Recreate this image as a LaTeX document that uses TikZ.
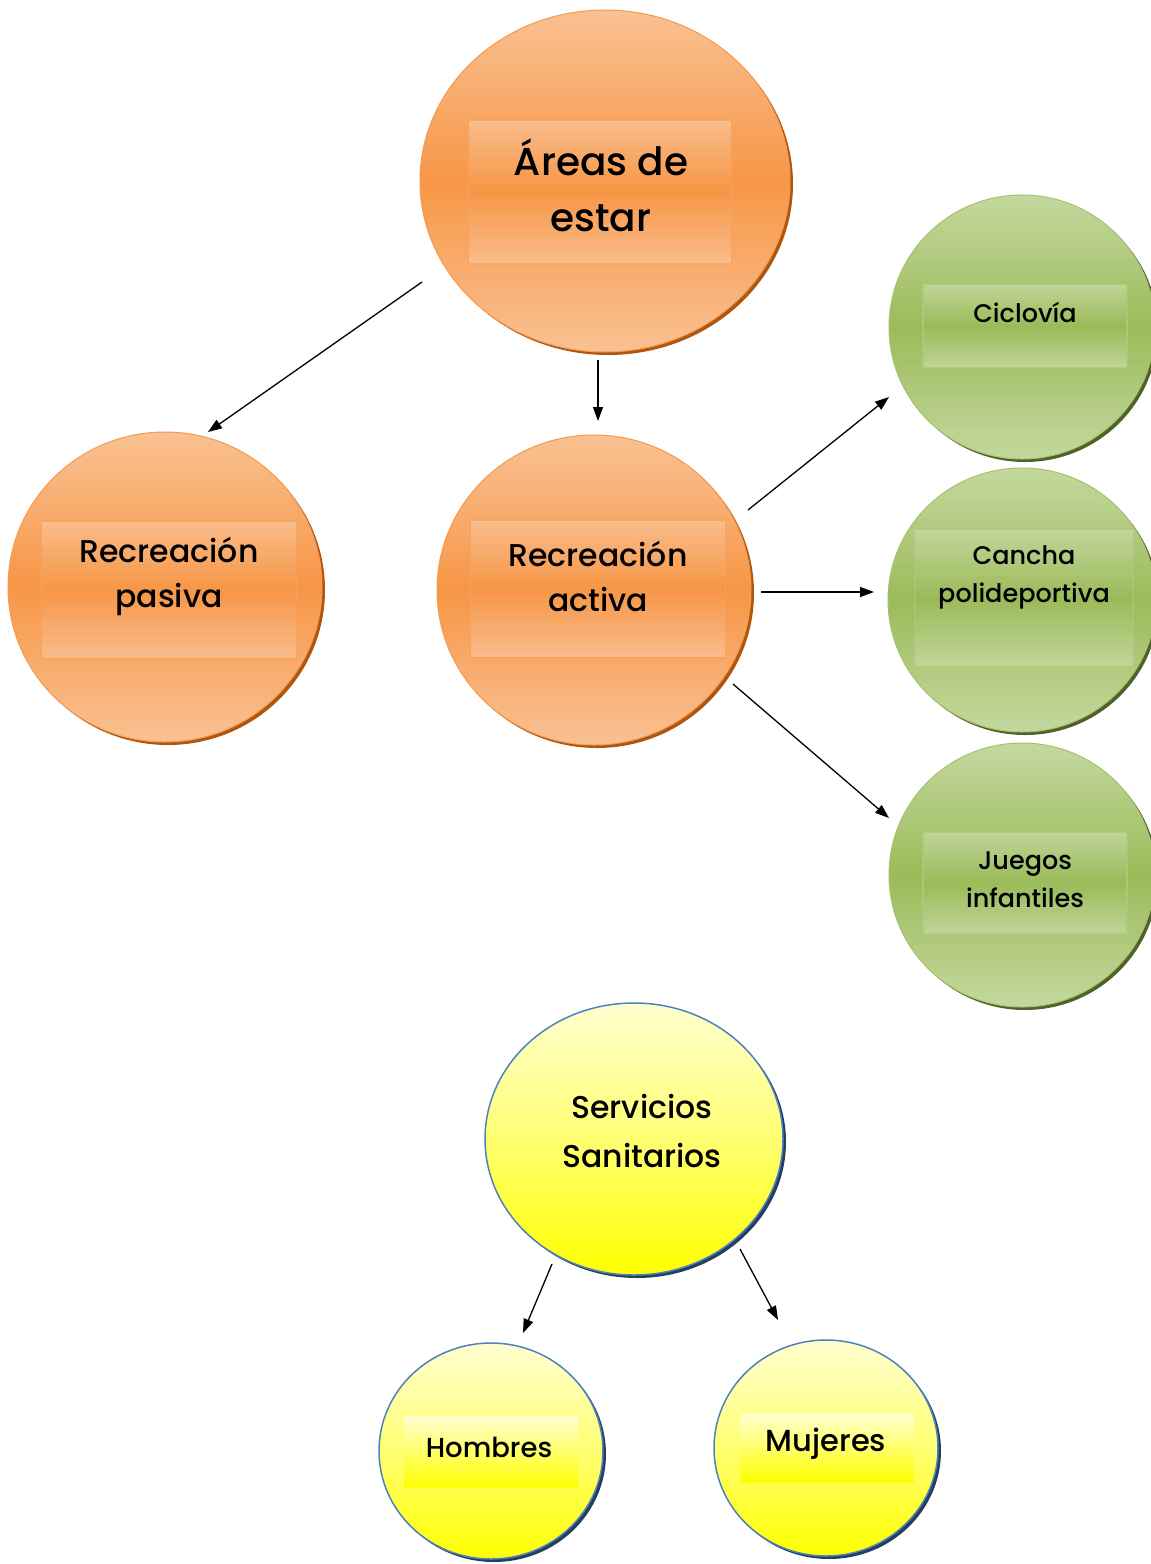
\documentclass[tikz,border=0pt]{standalone}
\usepackage{fontspec}
\setmainfont{Poppins}[BoldFont={Poppins Medium}]
\usetikzlibrary{shapes.geometric,arrows.meta}
\definecolor{orL}{HTML}{F9C193}
\definecolor{orM}{HTML}{F79646}
\definecolor{orD}{HTML}{B0560E}
\definecolor{orB}{HTML}{F59A4E}
\definecolor{grL}{HTML}{C4D89F}
\definecolor{grM}{HTML}{9BBB59}
\definecolor{grD}{HTML}{4F6228}
\definecolor{grB}{HTML}{A6C26C}
\definecolor{yeL}{HTML}{FFFFD0}
\definecolor{yeM}{HTML}{FFFF00}
\definecolor{blB}{HTML}{4F81BD}
\definecolor{blD}{HTML}{243F60}
\tikzset{
  ball/.style={ellipse, inner sep=0pt},
  orball/.style={ball, top color=orL, bottom color=orL, middle color=orM, draw=orB, line width=1pt},
  grball/.style={ball, top color=grL, bottom color=grL, middle color=grM, draw=grB, line width=1pt},
  yeball/.style={ball, top color=yeL, bottom color=yeM, middle color=yeM!45!yeL, draw=blB, line width=1.5pt},
  orrect/.style={rectangle, inner sep=0pt, top color=orL, bottom color=orL, middle color=orM, draw=orB!80!orL, line width=1.5pt, opacity=0.85},
  grrect/.style={rectangle, inner sep=0pt, top color=grL, bottom color=grL, middle color=grM, draw=grB!70!grL, line width=1.5pt, opacity=0.85},
  yerect/.style={rectangle, inner sep=0pt, top color=yeL, bottom color=yeM},
  lbl/.style={align=center, text=black, inner sep=0pt},
  arr/.style={-{Triangle[length=14pt,width=10pt]}, line width=1.3pt, black},
}
\begin{document}
\begin{tikzpicture}[x=1pt,y=-1pt]
\useasboundingbox (0,0) rectangle (1151,1564);
% shadows
\fill[orD] (608,184) ellipse [x radius=185, y radius=171];
\fill[orD] (168,590) ellipse [x radius=157, y radius=155];
\fill[orD] (597,593) ellipse [x radius=157, y radius=155];
\fill[grD] (1025,330) ellipse [x radius=133, y radius=132];
\fill[grD] (1025,603) ellipse [x radius=134, y radius=132];
\fill[grD] (1025,878) ellipse [x radius=133, y radius=132];
\fill[blD] (637,1142) ellipse [x radius=149, y radius=136];
\fill[blD] (494,1454) ellipse [x radius=112, y radius=108];
\fill[blD] (829,1451) ellipse [x radius=112, y radius=108];
% balls
\node[orball, minimum width=370pt, minimum height=342pt] (areas) at (605,181) {};
\node[orball, minimum width=314pt, minimum height=310pt] (pasiva) at (165,587) {};
\node[orball, minimum width=314pt, minimum height=310pt] (activa) at (594,590) {};
\node[grball, minimum width=266pt, minimum height=264pt] (ciclo) at (1022,327) {};
\node[grball, minimum width=268pt, minimum height=264pt] (cancha) at (1022,600) {};
\node[grball, minimum width=266pt, minimum height=264pt] (juegos) at (1022,875) {};
\node[yeball, minimum width=298pt, minimum height=272pt] (serv) at (634,1139) {};
\node[yeball, minimum width=224pt, minimum height=216pt] (hom) at (491,1451) {};
\node[yeball, minimum width=224pt, minimum height=216pt] (muj) at (826,1448) {};
% inner rectangles
\node[orrect, minimum width=263pt, minimum height=144pt] (areasR) at (600,192) {};
\node[orrect, minimum width=255pt, minimum height=138pt] (pasivaR) at (169,590) {};
\node[orrect, minimum width=255pt, minimum height=138pt] (activaR) at (598,589) {};
\node[grrect, minimum width=204pt, minimum height=83pt] (cicloR) at (1025,326) {};
\node[grrect, minimum width=219pt, minimum height=138pt] (canchaR) at (1024,598) {};
\node[grrect, minimum width=204pt, minimum height=102pt] (juegosR) at (1025,883) {};
\node[yerect, minimum width=174pt, minimum height=71pt] (homR) at (491,1452) {};
\node[yerect, minimum width=173pt, minimum height=68pt] (mujR) at (827,1448) {};
% labels
\node[lbl, font=\bfseries\fontsize{39}{56}\selectfont] (areasT) at (601,185) {Áreas de\\estar};
\node[lbl, font=\bfseries\fontsize{31.5}{45}\selectfont] (pasivaT) at (169,576) {Recreación\\pasiva};
\node[lbl, font=\bfseries\fontsize{31.5}{45}\selectfont] (activaT) at (598,576) {Recreación\\activa};
\node[lbl, font=\bfseries\fontsize{25.5}{38}\selectfont] (cicloT) at (1025,312) {Ciclovía};
\node[lbl, font=\bfseries\fontsize{25.5}{38}\selectfont] (canchaT) at (1024,577) {Cancha\\polideportiva};
\node[lbl, font=\bfseries\fontsize{25.5}{38}\selectfont] (juegosT) at (1025,880) {Juegos\\infantiles};
\node[lbl, font=\bfseries\fontsize{31.5}{49}\selectfont] (servT) at (642,1131) {Servicios\\Sanitarios};
\node[lbl, font=\bfseries\fontsize{27.5}{30}\selectfont] (homT) at (489,1447) {Hombres};
\node[lbl, font=\bfseries\fontsize{30.5}{30}\selectfont] (mujT) at (826,1444) {Mujeres};
% connector endpoints
\coordinate (a1s) at (422,282); \coordinate (a1e) at (208,432);
\coordinate (a2s) at (598,360); \coordinate (a2e) at (598,421);
\coordinate (a3s) at (748,510); \coordinate (a3e) at (889,397);
\coordinate (a4s) at (761,592); \coordinate (a4e) at (874,592);
\coordinate (a5s) at (733,684); \coordinate (a5e) at (889,818);
\coordinate (a6s) at (552,1264); \coordinate (a6e) at (523,1333);
\coordinate (a7s) at (740,1249); \coordinate (a7e) at (778,1320);
\draw[arr] (a1s) -- (a1e);
\draw[arr] (a2s) -- (a2e);
\draw[arr] (a3s) -- (a3e);
\draw[arr] (a4s) -- (a4e);
\draw[arr] (a5s) -- (a5e);
\draw[arr] (a6s) -- (a6e);
\draw[arr] (a7s) -- (a7e);
\end{tikzpicture}
\end{document}
